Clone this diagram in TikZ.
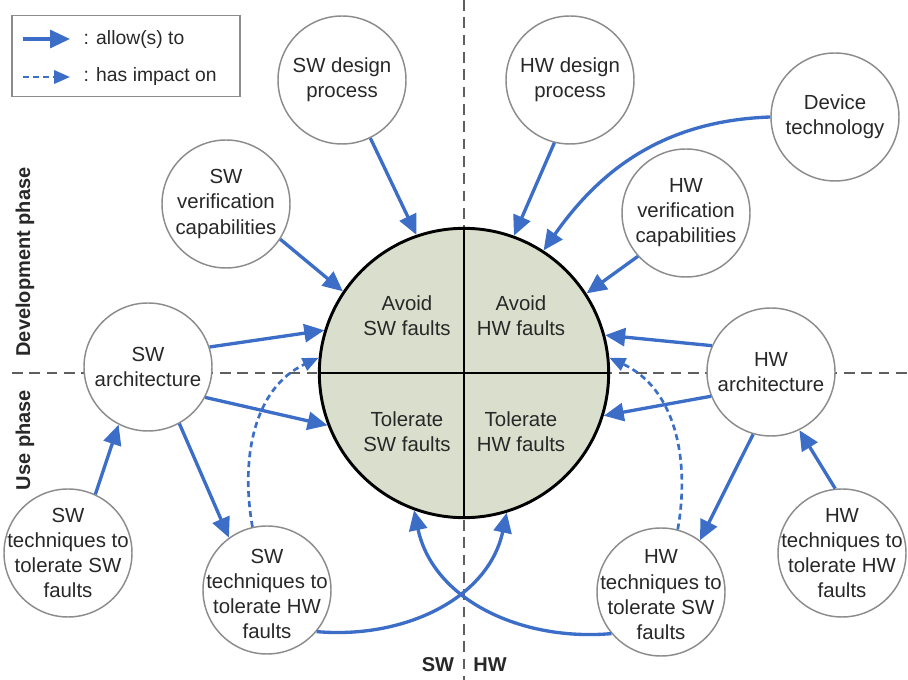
\documentclass[tikz,border=0pt]{standalone}
\usepackage{fontspec}
\setmainfont{Liberation Sans}
\usetikzlibrary{arrows.meta}
\definecolor{flow}{RGB}{60,110,200}
\definecolor{rim}{RGB}{140,140,140}
\definecolor{ink}{RGB}{40,40,40}
\definecolor{sage}{RGB}{217,223,204}
\definecolor{guidegray}{RGB}{95,95,95}
\begin{document}
\begin{tikzpicture}[x=0.75pt,y=0.75pt,
  bub/.style={circle, draw=rim, line width=1.1pt, fill=white, minimum size=96pt, inner sep=0pt},
  txt/.style={align=center, text=ink, font=\fontsize{15.3}{18.8}\selectfont},
  hub/.style={circle, draw=black, line width=2.2pt, fill=sage, minimum size=217pt, inner sep=0pt},
  allow/.style={draw=flow, line width=2.5pt, -{Triangle[length=15pt,width=13.5pt]}},
  impact/.style={draw=flow, line width=2pt, dash pattern=on 4.5pt off 3pt, -{Triangle[length=12pt,width=10pt]}},
  guide/.style={draw=guidegray, line width=1.2pt, dash pattern=on 8pt off 5pt},
  phase/.style={text=ink, font=\fontsize{15}{18}\selectfont\bfseries},
  keytext/.style={anchor=west, text=ink, font=\fontsize{14.5}{17}\selectfont}
]
\useasboundingbox (0,0) rectangle (908,-680);

% quadrant guides
\coordinate (vtop) at (464,0);
\coordinate (vbot) at (464,-680);
\coordinate (hleft) at (12,-373);
\coordinate (hright) at (908,-373);
\draw[guide] (vtop) -- (vbot);
\draw[guide] (hleft) -- (hright);

% legend
\node[draw=rim, line width=0.8pt, minimum width=171pt, minimum height=61pt, inner sep=0pt] (key) at (126,-56) {};
\coordinate (k1a) at (23,-39);
\coordinate (k1b) at (70,-39);
\coordinate (k2a) at (23,-77);
\coordinate (k2b) at (70,-77);
\draw[allow] (k1a) -- (k1b);
\draw[impact] (k2a) -- (k2b);
\node[keytext] (k1t) at (79,-40) {: allow(s) to};
\node[keytext] (k2t) at (79,-77) {: has impact on};

% phase labels
\node[phase, rotate=90] (devph) at (25,-262) {Development phase};
\node[phase, rotate=90] (useph) at (25,-440) {Use phase};
\node[phase] (swlab) at (438,-665) {SW};
\node[phase] (hwlab) at (490,-665) {HW};

% surrounding circles
\node[bub] (swd) at (342,-80) {};
\node[txt] at (swd) {SW design\\process};
\node[bub] (hwd) at (570,-80) {};
\node[txt] at (hwd) {HW design\\process};
\node[bub] (dev) at (835,-117) {};
\node[txt] at (dev) {Device\\technology};
\node[bub] (swv) at (226,-204) {};
\node[txt] at (swv) {SW\\verification\\capabilities};
\node[bub] (hwv) at (686,-213) {};
\node[txt] at (hwv) {HW\\verification\\capabilities};
\node[bub] (swa) at (148,-367) {};
\node[txt] at (swa) {SW\\architecture};
\node[bub] (hwa) at (771,-372) {};
\node[txt] at (hwa) {HW\\architecture};
\node[bub] (swts) at (68,-553) {};
\node[txt] at (swts) {SW\\techniques to\\tolerate SW\\faults};
\node[bub] (swth) at (267,-590) {};
\node[txt] at ([yshift=-3pt]swth.center) {SW\\techniques to\\tolerate HW\\faults};
\node[bub] (hwts) at (661,-592) {};
\node[txt] at ([yshift=-2pt]hwts.center) {HW\\techniques to\\tolerate SW\\faults};
\node[bub] (hwth) at (842,-553) {};
\node[txt] at (hwth) {HW\\techniques to\\tolerate HW\\faults};

% central circle with its four quadrants
\node[hub] (core) at (464,-373) {};
\draw[line width=1.5pt] (core.north) -- (core.south);
\draw[line width=1.5pt] (core.west) -- (core.east);
\node[txt] at (407,-316) {Avoid\\SW faults};
\node[txt] at (521,-316) {Avoid\\HW faults};
\node[txt] at (407,-432) {Tolerate\\SW faults};
\node[txt] at (521,-432) {Tolerate\\HW faults};

% "allow(s) to" connectors
\draw[allow] (swd.-64) -- (core.109);
\draw[allow] (hwd.-104) -- (core.70);
\draw[allow] (dev.180) to[out=182, in=55] (core.57);
\draw[allow] (swv.-33) -- (core.146);
\draw[allow] (hwv.222) -- (core.33);
\draw[allow] (swa.18) -- (core.163);
\draw[allow] (swa.-28) -- (core.201);
\draw[allow] (hwa.156) -- (core.15);
\draw[allow] (hwa.202) -- (core.-17);
\draw[allow] (swa.-61) -- (swth.126);
\draw[allow] (hwa.254) -- (hwts.53);
\draw[allow] (swts.65) -- (swa.243);
\draw[allow] (hwth.96) -- (hwa.-64);
\draw[allow] (swth.-40) to[out=-5, in=258] (core.-73);
\draw[allow] (hwts.220) to[out=185, in=282] (core.250);

% "has impact on" connectors
\draw[impact] (swth.103) to[out=100, in=205] (core.174);
\draw[impact] (hwts.75) to[out=80, in=-25] (core.6);
\end{tikzpicture}
\end{document}
